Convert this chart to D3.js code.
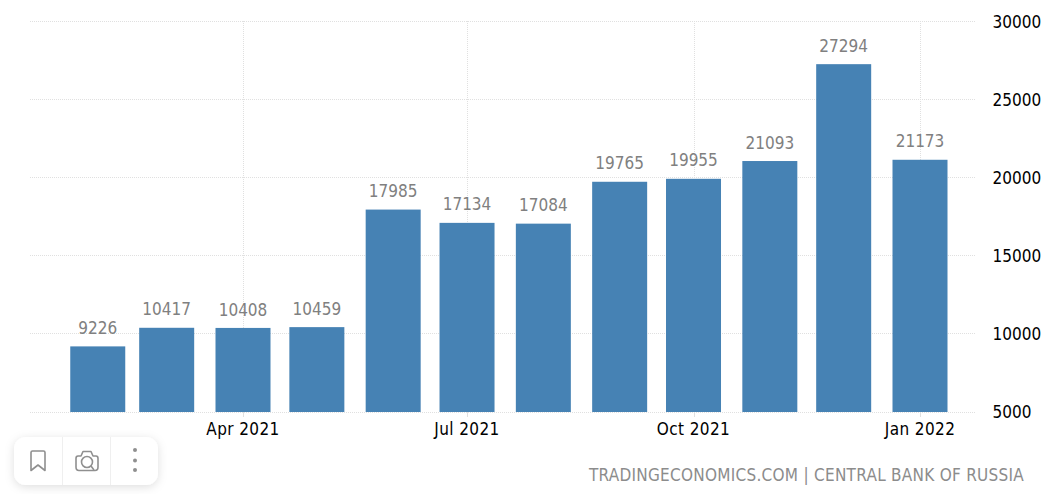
<!DOCTYPE html>
<html><head><meta charset="utf-8">
<script src="https://cdn.jsdelivr.net/npm/d3@7/dist/d3.min.js"></script>
<style>html,body{margin:0;padding:0;background:#fff;overflow:hidden}svg{display:block}
text{font-family:"DejaVu Sans Condensed","DejaVu Sans",sans-serif}</style></head>
<body><svg id="c" width="1062" height="494"></svg>
<script>
const months=["2021-02-01","2021-03-01","2021-04-01","2021-05-01","2021-06-01","2021-07-01","2021-08-01","2021-09-01","2021-10-01","2021-11-01","2021-12-01","2022-01-01"];
const values=[9226,10417,10408,10459,17985,17134,17084,19765,19955,21093,27294,21173];
const yTicks=[5000,10000,15000,20000,25000,30000];
const xTicks=[["2021-04-01","Apr 2021"],["2021-07-01","Jul 2021"],["2021-10-01","Oct 2021"],["2022-01-01","Jan 2022"]];
const source="TRADINGECONOMICS.COM | CENTRAL BANK OF RUSSIA";
const svg=d3.select("#c");
const defs=svg.append("defs");
const f=defs.append("filter").attr("id","sh").attr("x","-20%").attr("y","-40%").attr("width","140%").attr("height","190%");
f.append("feDropShadow").attr("dx",0).attr("dy",2).attr("stdDeviation",5).attr("flood-color","#000").attr("flood-opacity",0.13);
const d=s=>new Date(s+"T00:00:00Z");
const x=d3.scaleUtc().domain([d("2021-04-01"),d("2022-01-01")]).range([243,920]);
const y=d3.scaleLinear().domain([5000,30000]).range([412,21.5]);
const L=30,R=975,barW=55,barNudge=0.4;
const grid=svg.append("g").attr("fill","none").attr("stroke","#e0e0e0").attr("stroke-width",1).attr("stroke-dasharray","1 1");
yTicks.forEach(t=>{const py=Math.floor(y(t))+.5;grid.append("line").attr("x1",L).attr("x2",R).attr("y1",py).attr("y2",py);});
xTicks.forEach(t=>{const px=Math.round(x(d(t[0])))+.5;grid.append("line").attr("x1",px).attr("x2",px).attr("y1",21).attr("y2",412);
 svg.append("line").attr("x1",px).attr("x2",px).attr("y1",412).attr("y2",417).attr("stroke","#e0e0e0");});
svg.append("g").selectAll("rect").data(months).join("rect")
 .attr("x",m=>x(d(m))-barW/2).attr("width",barW)
 .attr("y",(m,i)=>y(values[i])+barNudge).attr("height",(m,i)=>412-y(values[i])-barNudge).attr("fill","#4682b4");
svg.append("g").selectAll("text").data(months).join("text")
 .attr("x",m=>x(d(m))).attr("y",(m,i)=>y(values[i])-12).attr("text-anchor","middle")
 .attr("font-size",17).attr("fill","#808080").text((m,i)=>values[i]);
svg.append("g").selectAll("text").data(yTicks).join("text")
 .attr("x",992.5).attr("y",t=>y(t)+6).attr("font-size",17).attr("fill","#000").text(t=>t);
svg.append("g").selectAll("text").data(xTicks).join("text")
 .attr("x",t=>x(d(t[0]))).attr("y",435).attr("text-anchor","middle").attr("font-size",17).attr("letter-spacing",0.4).attr("fill","#000").text(t=>t[1]);
svg.append("text").attr("x",1024).attr("y",481).attr("text-anchor","end").attr("font-size",17).attr("letter-spacing",0.27).attr("fill","#8c8c8c").text(source);
// toolbar
const tb=svg.append("g");
tb.append("rect").attr("x",14).attr("y",437).attr("width",144).attr("height",48).attr("rx",12).attr("fill","#fff").attr("filter","url(#sh)");
[62.5,110.5].forEach(px=>tb.append("line").attr("x1",px).attr("x2",px).attr("y1",437).attr("y2",485).attr("stroke","#efefef"));
const ic=tb.append("g").attr("fill","none").attr("stroke","#8f8f8f").attr("stroke-width",1.6).attr("stroke-linejoin","round");
ic.append("path").attr("d","M31 452.5 Q31 451 32.5 451 H43.5 Q45 451 45 452.5 V470.5 L38 465 L31 470.5 Z");
ic.append("path").attr("d","M78 456 Q76 456 76 458.5 V467 Q76 470.5 79 470.5 H95 Q98 470.5 98 467 V458.5 Q98 456 96 456 H93 L91 451.5 H83 L81 456 Z");
ic.append("circle").attr("cx",87).attr("cy",462).attr("r",5.5);
ic.append("line").attr("x1",91).attr("y1",466).attr("x2",94).attr("y2",470);
[450,460.5,470].forEach(cy=>tb.append("circle").attr("cx",135).attr("cy",cy).attr("r",2).attr("fill","#8f8f8f"));
</script></body></html>
